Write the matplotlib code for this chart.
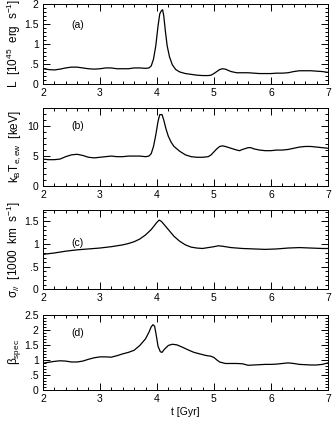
import numpy as np
import matplotlib
matplotlib.use('Agg')
import matplotlib.pyplot as plt
from matplotlib.ticker import MultipleLocator, FuncFormatter

plt.rcParams['font.family'] = ['Liberation Sans', 'DejaVu Sans']
plt.rcParams['mathtext.fontset'] = 'custom'
plt.rcParams['mathtext.rm'] = 'Liberation Sans'
plt.rcParams['mathtext.it'] = 'Liberation Sans:italic'
plt.rcParams['mathtext.default'] = 'regular'

# (a) X-ray luminosity
t_lum = [2.0, 2.1, 2.2, 2.3, 2.4, 2.5, 2.6, 2.7, 2.8, 2.9, 3.0, 3.1, 3.2, 3.3, 3.4, 3.5,
         3.6, 3.7, 3.8, 3.86, 3.9, 3.94, 3.98, 4.02, 4.05, 4.08, 4.10, 4.12, 4.15, 4.18,
         4.22, 4.27, 4.33, 4.4, 4.5, 4.6, 4.7, 4.8, 4.9, 4.95, 5.0, 5.05, 5.1, 5.15, 5.2,
         5.25, 5.3, 5.4, 5.5, 5.6, 5.7, 5.8, 5.9, 6.0, 6.1, 6.2, 6.3, 6.4, 6.5, 6.6, 6.7,
         6.8, 6.9, 7.0]
lum = [0.38, 0.36, 0.35, 0.37, 0.40, 0.42, 0.42, 0.40, 0.38, 0.37, 0.38, 0.40, 0.40, 0.38,
       0.38, 0.38, 0.40, 0.40, 0.39, 0.40, 0.45, 0.62, 0.95, 1.45, 1.75, 1.83, 1.85, 1.70,
       1.30, 0.95, 0.68, 0.48, 0.36, 0.30, 0.26, 0.24, 0.22, 0.21, 0.21, 0.22, 0.26, 0.31,
       0.36, 0.38, 0.37, 0.34, 0.31, 0.28, 0.28, 0.28, 0.27, 0.26, 0.26, 0.26, 0.27, 0.27,
       0.28, 0.31, 0.33, 0.33, 0.33, 0.32, 0.31, 0.29]

# (b) emission-weighted temperature
t_temp = [2.0, 2.1, 2.2, 2.3, 2.4, 2.5, 2.6, 2.7, 2.8, 2.9, 3.0, 3.1, 3.2, 3.3, 3.4, 3.5,
          3.6, 3.7, 3.8, 3.86, 3.9, 3.94, 3.98, 4.02, 4.05, 4.09, 4.12, 4.16, 4.2, 4.25,
          4.3, 4.4, 4.5, 4.6, 4.7, 4.8, 4.9, 4.95, 5.0, 5.05, 5.1, 5.15, 5.2, 5.3, 5.4,
          5.45, 5.5, 5.6, 5.65, 5.7, 5.8, 5.9, 6.0, 6.1, 6.2, 6.3, 6.4, 6.5, 6.6, 6.7,
          6.8, 6.9, 7.0]
temp = [4.5, 4.4, 4.4, 4.5, 4.9, 5.2, 5.3, 5.1, 4.8, 4.7, 4.8, 4.9, 5.0, 4.9, 4.9, 5.0,
        5.0, 5.0, 4.9, 5.0, 5.4, 6.6, 8.5, 10.8, 11.9, 11.9, 11.0, 9.5, 8.3, 7.3,
        6.6, 5.8, 5.2, 4.9, 4.8, 4.8, 4.9, 5.2, 5.7, 6.2, 6.6, 6.7, 6.6, 6.3, 6.0,
        5.9, 6.1, 6.4, 6.4, 6.2, 6.0, 5.9, 5.9, 6.0, 6.0, 6.1, 6.3, 6.5, 6.6, 6.6,
        6.5, 6.4, 6.3]

# (c) line-of-sight velocity dispersion
t_sig = [2.0, 2.2, 2.4, 2.6, 2.8, 3.0, 3.2, 3.4, 3.5, 3.6, 3.7, 3.8, 3.9, 3.95, 4.0, 4.04,
         4.08, 4.12, 4.2, 4.3, 4.4, 4.5, 4.6, 4.7, 4.8, 4.9, 5.0, 5.08, 5.15, 5.3, 5.5,
         5.7, 5.9, 6.1, 6.3, 6.5, 6.7, 6.9, 7.0]
sig = [0.77, 0.80, 0.84, 0.87, 0.89, 0.91, 0.94, 0.98, 1.01, 1.05, 1.11, 1.20, 1.32, 1.40,
       1.48, 1.53, 1.50, 1.44, 1.32, 1.17, 1.06, 0.98, 0.93, 0.91, 0.90, 0.92, 0.94, 0.96,
       0.95, 0.92, 0.90, 0.89, 0.88, 0.89, 0.91, 0.92, 0.91, 0.90, 0.90]

# (d) beta_spec
t_beta = [2.0, 2.1, 2.2, 2.3, 2.4, 2.5, 2.6, 2.7, 2.8, 2.9, 3.0, 3.1, 3.2, 3.3, 3.4, 3.5,
          3.6, 3.7, 3.8, 3.86, 3.9, 3.93, 3.96, 3.99, 4.02, 4.06, 4.09, 4.13, 4.2, 4.27,
          4.35, 4.45, 4.55, 4.65, 4.75, 4.85, 4.95, 5.0, 5.05, 5.1, 5.2, 5.3, 5.4, 5.5,
          5.6, 5.7, 5.8, 5.9, 6.0, 6.1, 6.2, 6.3, 6.4, 6.5, 6.6, 6.7, 6.8, 6.9, 7.0]
beta = [0.89, 0.92, 0.95, 0.97, 0.96, 0.93, 0.93, 0.96, 1.02, 1.07, 1.10, 1.10, 1.09, 1.14,
        1.20, 1.25, 1.32, 1.48, 1.70, 1.92, 2.10, 2.17, 2.12, 1.80, 1.45, 1.27, 1.25, 1.35,
        1.48, 1.52, 1.50, 1.42, 1.33, 1.25, 1.20, 1.15, 1.12, 1.08, 1.00, 0.93, 0.88, 0.88,
        0.88, 0.87, 0.82, 0.83, 0.84, 0.85, 0.85, 0.86, 0.88, 0.90, 0.88, 0.85, 0.84, 0.83,
        0.83, 0.85, 0.90]


def short_fmt(v, pos):
    # drop the leading zero: 0.5 -> .5
    s = '%g' % v
    if s.startswith('0.'):
        s = s[1:]
    return s


panels = [
    (t_lum, lum, (0, 2), 0.5, 0.1, 'L  [10$^{45}$  erg  s$^{-1}$]', '(a)', 0.74,
     [0.128, 0.801, 0.851, 0.190]),
    (t_temp, temp, (0, 13), 5, 1, 'k$_B$T$_{e,ew}$  [keV]', '(b)', 0.77,
     [0.128, 0.559, 0.851, 0.185]),
    (t_sig, sig, (0, 1.75), 0.5, 0.1, '$\\sigma_{//}$  [1000  km  s$^{-1}$]', '(c)', 0.58,
     [0.128, 0.315, 0.851, 0.187]),
    (t_beta, beta, (0, 2.5), 0.5, 0.1, '$\\beta_{spec}$', '(d)', 0.76,
     [0.128, 0.076, 0.851, 0.178]),
]

fig = plt.figure(figsize=(3.35, 4.22), dpi=100)

for t, y, ylim, major, minor, ylabel, tag, tag_y, rect in panels:
    ax = fig.add_axes(rect)
    ax.plot(t, y, color='black', lw=0.9)
    ax.set_xlim(2, 7)
    ax.set_ylim(*ylim)
    ax.xaxis.set_major_locator(MultipleLocator(1))
    ax.xaxis.set_minor_locator(MultipleLocator(0.2))
    ax.yaxis.set_major_locator(MultipleLocator(major))
    ax.yaxis.set_minor_locator(MultipleLocator(minor))
    ax.yaxis.set_major_formatter(FuncFormatter(short_fmt))
    ax.tick_params(which='both', direction='in', top=True, right=True,
                   labelsize=7.5, width=0.7, pad=3)
    ax.tick_params(which='major', length=5)
    ax.tick_params(which='minor', length=2.5)
    for sp in ax.spines.values():
        sp.set_linewidth(0.7)
    ax.set_ylabel(ylabel, fontsize=8.5)
    ax.yaxis.set_label_coords(-0.07, 0.5)
    ax.text(0.10, tag_y, tag, transform=ax.transAxes, fontsize=7.5, va='center')

ax.set_xlabel('t [Gyr]', fontsize=7.5, labelpad=2)

fig.savefig('out.png', dpi=100)
